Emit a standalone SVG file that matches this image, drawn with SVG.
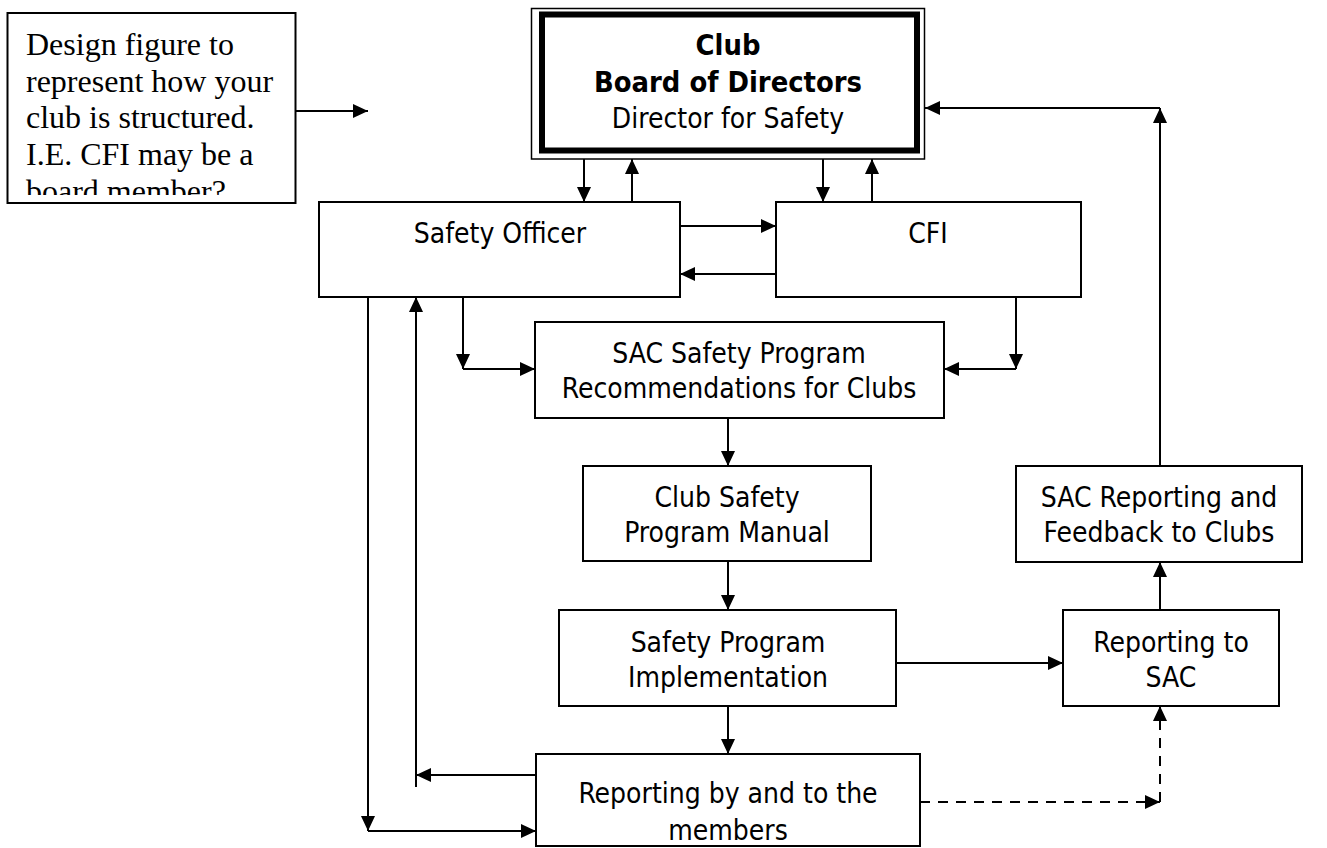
<svg xmlns="http://www.w3.org/2000/svg" width="1327" height="848" viewBox="0 0 1327 848">
<style>
.box{fill:#fff;stroke:#000;stroke-width:2}
.t{font-family:"DejaVu Sans Condensed","DejaVu Sans",sans-serif;font-stretch:condensed;font-size:28px;fill:#000;text-anchor:middle}
.b{font-weight:bold;font-size:28.8px}
.serif{font-family:"Liberation Serif","Times New Roman",serif;font-size:32px;fill:#000}
.c line{stroke:#000;stroke-width:2;fill:none}
.c .d{stroke-dasharray:10 8}
</style>
<defs>
<marker id="ah" markerUnits="userSpaceOnUse" markerWidth="16" markerHeight="14" refX="15" refY="7" orient="auto" viewBox="0 0 16 14">
<path d="M0,0 L15,7 L0,14 z" fill="#000" stroke="none"/>
</marker>
<clipPath id="noteclip"><rect x="8" y="14" width="287" height="181"/></clipPath>
</defs>
<rect width="1327" height="848" fill="#fff"/>

<g id="note">
<rect x="7.5" y="13" width="288" height="190" fill="#fff" stroke="#000" stroke-width="2"/>
<g clip-path="url(#noteclip)">
<text class="serif" x="26" y="55">Design figure to</text>
<text class="serif" x="26" y="92">represent how your</text>
<text class="serif" x="26" y="128">club is structured.</text>
<text class="serif" x="26" y="165">I.E. CFI may be a</text>
<text class="serif" x="26" y="202">board member?</text>
</g>
</g>

<g id="board">
<rect x="531.5" y="8.5" width="393" height="150.5" fill="#fff" stroke="#000" stroke-width="1.5"/>
<rect x="542" y="14.5" width="375" height="136" fill="#fff" stroke="#000" stroke-width="6"/>
<text class="t b" x="728" y="55">Club</text>
<text class="t b" x="728" y="92">Board of Directors</text>
<text class="t" x="728" y="128">Director for Safety</text>
</g>

<g id="safety-officer">
<rect class="box" x="319" y="202" width="361" height="95"/>
<text class="t" x="500" y="243">Safety Officer</text>
</g>

<g id="cfi">
<rect class="box" x="776" y="202" width="305" height="95"/>
<text class="t" x="928" y="243">CFI</text>
</g>

<g id="sac-program">
<rect class="box" x="535" y="322" width="409" height="96"/>
<text class="t" x="739" y="363">SAC Safety Program</text>
<text class="t" x="739" y="398">Recommendations for Clubs</text>
</g>

<g id="club-manual">
<rect class="box" x="583" y="466" width="288" height="95"/>
<text class="t" x="727" y="507">Club Safety</text>
<text class="t" x="727" y="542">Program Manual</text>
</g>

<g id="implementation">
<rect class="box" x="559" y="610" width="337" height="96"/>
<text class="t" x="728" y="652">Safety Program</text>
<text class="t" x="728" y="687">Implementation</text>
</g>

<g id="members">
<rect class="box" x="536" y="754" width="384" height="92"/>
<text class="t" x="728" y="803">Reporting by and to the</text>
<text class="t" x="728" y="840">members</text>
</g>

<g id="reporting-sac">
<rect class="box" x="1063" y="610" width="216" height="96"/>
<text class="t" x="1171" y="652">Reporting to</text>
<text class="t" x="1171" y="687">SAC</text>
</g>

<g id="sac-feedback">
<rect class="box" x="1016" y="466" width="286" height="96"/>
<text class="t" x="1159" y="507">SAC Reporting and</text>
<text class="t" x="1159" y="542">Feedback to Clubs</text>
</g>

<g id="connectors" class="c">
<line x1="296" y1="111" x2="368" y2="111" marker-end="url(#ah)"/>
<line x1="584" y1="159" x2="584" y2="202" marker-end="url(#ah)"/>
<line x1="632" y1="202" x2="632" y2="159" marker-end="url(#ah)"/>
<line x1="823" y1="159" x2="823" y2="202" marker-end="url(#ah)"/>
<line x1="872" y1="202" x2="872" y2="159" marker-end="url(#ah)"/>
<line x1="680" y1="226" x2="776" y2="226" marker-end="url(#ah)"/>
<line x1="776" y1="274" x2="680" y2="274" marker-end="url(#ah)"/>
<line x1="463" y1="297" x2="463" y2="369" marker-end="url(#ah)"/>
<line x1="463" y1="369" x2="535" y2="369" marker-end="url(#ah)"/>
<line x1="1016" y1="297" x2="1016" y2="369" marker-end="url(#ah)"/>
<line x1="1016" y1="369" x2="944" y2="369" marker-end="url(#ah)"/>
<line x1="728" y1="418" x2="728" y2="466" marker-end="url(#ah)"/>
<line x1="728" y1="561" x2="728" y2="610" marker-end="url(#ah)"/>
<line x1="728" y1="706" x2="728" y2="754" marker-end="url(#ah)"/>
<line x1="896" y1="663" x2="1063" y2="663" marker-end="url(#ah)"/>
<line x1="1160" y1="610" x2="1160" y2="562" marker-end="url(#ah)"/>
<line x1="1160" y1="466" x2="1160" y2="108" marker-end="url(#ah)"/>
<line x1="1160" y1="108" x2="925" y2="108" marker-end="url(#ah)"/>
<line x1="536" y1="775" x2="416" y2="775" marker-end="url(#ah)"/>
<line x1="416" y1="787" x2="416" y2="297" marker-end="url(#ah)"/>
<line x1="368" y1="297" x2="368" y2="831" marker-end="url(#ah)"/>
<line x1="368" y1="831" x2="536" y2="831" marker-end="url(#ah)"/>
<line class="d" x1="920" y1="802" x2="1160" y2="802" marker-end="url(#ah)"/>
<line class="d" x1="1160" y1="802" x2="1160" y2="706" marker-end="url(#ah)"/>
</g>
</svg>
